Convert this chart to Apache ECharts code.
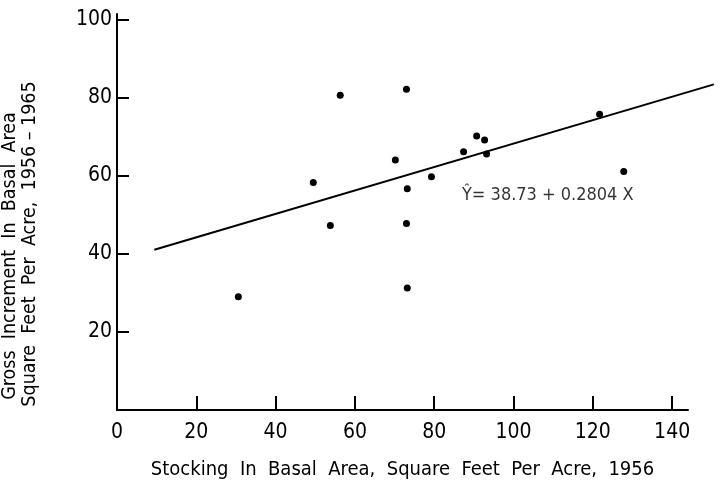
<!DOCTYPE html>
<html>
<head>
<meta charset="utf-8">
<script src="https://cdn.jsdelivr.net/npm/echarts@6/dist/echarts.min.js"></script>
<style>
  html, body { margin: 0; padding: 0; background: #fff; }
  #chart { width: 721px; height: 485px; }
</style>
</head>
<body>
<div id="chart"></div>
<script>
// Data
const stocking = [30.6, 56.3, 49.5, 53.8, 73.0, 70.2, 73.2, 73.0, 73.2, 79.3, 87.4, 90.7, 92.7, 93.2, 121.7, 127.8];
const increment = [29.0, 80.7, 58.3, 47.3, 82.2, 64.1, 56.7, 47.8, 31.3, 59.8, 66.2, 70.2, 69.2, 65.6, 75.8, 61.1];
const intercept = 38.73;
const slope = 0.2804;
const lineX = [10, 160];
const xTicks = [0, 20, 40, 60, 80, 100, 120, 140];
const yTicks = [20, 40, 60, 80, 100];
const xTitle = 'Stocking  In  Basal  Area,  Square  Feet  Per  Acre,  1956';
const yTitle1 = 'Gross  Increment  In  Basal  Area';
const yTitle2 = 'Square  Feet  Per  Acre,  1956 – 1965';
const equation = 'Ŷ= 38.73 + 0.2804 X';

const FONT = 'DejaVu Sans Condensed';
const scatterData = stocking.map((x, i) => [x, increment[i]]);
const lineData = lineX.map(x => [x, intercept + slope * x]);

const chart = echarts.init(document.getElementById('chart'));
const yBase = { type: 'value', min: 0, max: 101.5, splitLine: { show: false } };
chart.setOption({
  backgroundColor: '#ffffff',
  animation: false,
  grid: [
    { left: 117, top: 14, width: 571, height: 399, containLabel: false },
    { left: 117, top: 14, width: 642, height: 399, containLabel: false }
  ],
  xAxis: [{
    type: 'value', min: 0, max: 144, gridIndex: 0,
    splitLine: { show: false },
    axisLine: { lineStyle: { color: '#000', width: 2 } },
    axisTick: { inside: true, length: 14, lineStyle: { color: '#000', width: 2 }, customValues: xTicks },
    axisLabel: { color: '#000', fontFamily: FONT, fontSize: 21, margin: 12, customValues: xTicks },
    name: xTitle, nameLocation: 'middle', nameGap: 50,
    nameTextStyle: { color: '#000', fontFamily: FONT, fontSize: 20 }
  }, {
    type: 'value', min: 0, max: 642 / 571 * 144, gridIndex: 1, show: false, splitLine: { show: false }
  }],
  yAxis: [Object.assign({}, yBase, {
    gridIndex: 0,
    axisLine: { onZero: false, lineStyle: { color: '#000', width: 2 } },
    axisTick: { inside: true, length: 12, lineStyle: { color: '#000', width: 2 }, customValues: yTicks },
    axisLabel: { color: '#000', fontFamily: FONT, fontSize: 21, margin: 5, customValues: yTicks }
  }), Object.assign({}, yBase, { gridIndex: 1, show: false })],
  graphic: [
    { type: 'text', x: 10, y: 256, rotation: Math.PI / 2,
      style: { text: yTitle1, fill: '#000', font: '19.5px "' + FONT + '"', align: 'center', verticalAlign: 'middle' } },
    { type: 'text', x: 30, y: 244, rotation: Math.PI / 2,
      style: { text: yTitle2, fill: '#000', font: '19.5px "' + FONT + '"', align: 'center', verticalAlign: 'middle' } }
  ],
  series: [
    {
      type: 'line', data: lineData, xAxisIndex: 1, yAxisIndex: 1, symbol: 'none',
      lineStyle: { color: '#000', width: 2 }, silent: true
    },
    {
      type: 'scatter', data: scatterData, symbol: 'circle', symbolSize: 7,
      itemStyle: { color: '#000', opacity: 1 }
    },
    {
      type: 'scatter', data: [[87, 55]], symbolSize: 0,
      label: { show: true, formatter: equation, position: 'right', distance: 0,
        color: '#000', fontFamily: FONT, fontSize: 18 }
    }
  ]
});
</script>
</body>
</html>
